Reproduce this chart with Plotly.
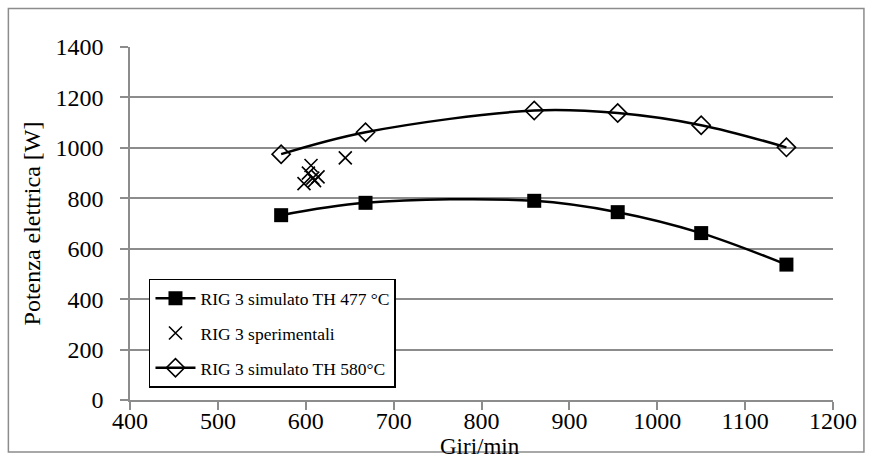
import plotly.graph_objects as go

# Speed (rpm) and electric power (W)
rpm_sim = [572, 668, 860, 955, 1050, 1147]
power_477 = [733, 782, 790, 745, 662, 537]
power_580 = [975, 1062, 1148, 1138, 1090, 1002]

rpm_exp = [598, 603, 606, 608, 610, 614, 645]
power_exp = [858, 900, 930, 880, 870, 885, 960]

x_ticks = [400, 500, 600, 700, 800, 900, 1000, 1100, 1200]
y_ticks = [0, 200, 400, 600, 800, 1000, 1200, 1400]

FONT = "Liberation Serif"
AXIS_SIZE = 24
LEGEND_SIZE = 17.5

fig = go.Figure()
fig.add_trace(go.Scatter(
    x=rpm_sim, y=power_477, mode="lines+markers",
    name="RIG 3 simulato TH 477 °C", legendgroup="a",
    line=dict(color="black", width=2.5, shape="spline"),
    marker=dict(symbol="square", size=14, color="black"),
))
fig.add_trace(go.Scatter(
    x=rpm_exp, y=power_exp, mode="markers",
    name="RIG 3 sperimentali", legendgroup="b",
    marker=dict(symbol="x-thin-open", size=13, color="black",
                line=dict(color="black", width=1.6)),
))
fig.add_trace(go.Scatter(
    x=rpm_sim, y=power_580, mode="lines+markers",
    name="RIG 3 simulato TH 580°C", legendgroup="c",
    line=dict(color="black", width=2.5, shape="spline"),
    marker=dict(symbol="diamond-open", size=14, color="black",
                line=dict(color="black", width=1.6)),
))

axis_common = dict(
    showline=True, linecolor="#8c8c8c", linewidth=1.5,
    ticks="outside", ticklen=8, tickcolor="#8c8c8c", tickwidth=1.5,
    tickfont=dict(family=FONT, size=AXIS_SIZE, color="black"),
    zeroline=False,
)

fig.update_xaxes(
    range=[400, 1200], tickvals=x_ticks, showgrid=False,
    ticklabelstandoff=-10,
    **axis_common,
)
fig.update_yaxes(
    range=[0, 1400], tickvals=y_ticks, showgrid=True,
    gridcolor="#8c8c8c", gridwidth=1.5,
    ticklabelstandoff=12,
    title=dict(text="Potenza elettrica [W]",
               font=dict(family=FONT, size=AXIS_SIZE, color="black"), standoff=8),
    **axis_common,
)

fig.update_layout(
    width=869, height=459,
    margin=dict(l=130, r=34, t=47, b=59),
    paper_bgcolor="white", plot_bgcolor="white",
    font=dict(family=FONT, size=AXIS_SIZE, color="black"),
    showlegend=True,
    legend=dict(
        x=0.027, y=0.343, xanchor="left", yanchor="top",
        bgcolor="white", bordercolor="black", borderwidth=1.5,
        font=dict(family=FONT, size=LEGEND_SIZE, color="black"),
        traceorder="grouped", tracegroupgap=9,
        itemwidth=40,
    ),
    annotations=[dict(
        text="Giri/min", xref="paper", yref="paper",
        x=0.498, y=-0.132, xanchor="center", yanchor="middle",
        showarrow=False, font=dict(family=FONT, size=23, color="black"),
    )],
    shapes=[dict(
        type="rect", xref="paper", yref="paper",
        x0=-0.173, x1=1.044, y0=-0.1475, y1=1.109,
        line=dict(color="#8c8c8c", width=1.5), fillcolor="rgba(0,0,0,0)",
        layer="below",
    )],
)

fig.write_html("out.html")
